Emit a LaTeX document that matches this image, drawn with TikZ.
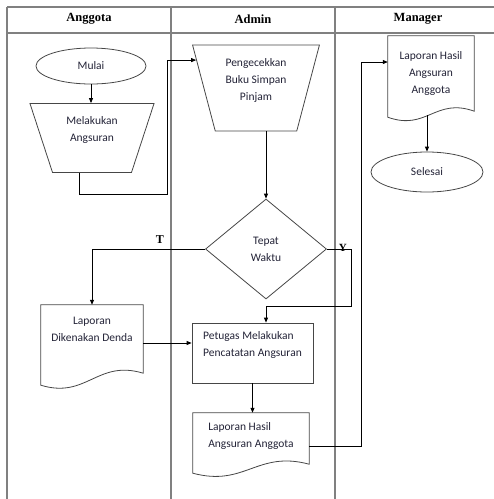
\documentclass[tikz,border=0pt]{standalone}
\usepackage{fontspec}
\setmainfont{Carlito}
\newfontfamily\headfont{Liberation Serif}
\usetikzlibrary{shapes.geometric,arrows.meta,calc}

\definecolor{lanegray}{RGB}{128,128,128}
\definecolor{shapegray}{RGB}{70,70,70}
\definecolor{textdark}{RGB}{35,35,55}

\tikzset{
  lane/.style={draw=lanegray, line width=1.5pt},
  shapeline/.style={draw=shapegray, line width=0.8pt},
  link/.style={draw=black, line width=0.8pt},
  arr/.style={link, -{Triangle[length=5pt,width=4pt]}},
  txt/.style={font=\fontsize{11.5}{17}\selectfont, text=textdark},
  terminal/.style={ellipse, shapeline, txt, inner sep=0pt},
  manual/.style={trapezium, trapezium stretches=true, shapeline, txt, align=center, inner sep=2pt},
  doc/.style={rectangle, txt, inner sep=0pt},
  process/.style={rectangle, shapeline, txt, align=left, inner sep=0pt},
  decision/.style={diamond, shapeline, txt, align=center, inner sep=0pt},
  head/.style={font=\headfont\bfseries\fontsize{12.5}{14}\selectfont},
  branch/.style={font=\headfont\bfseries\fontsize{11}{12}\selectfont, anchor=base},
}

\newcommand{\docshape}[3]{%
  \draw[shapeline] ([yshift=-#2pt]#1.south west) -- (#1.north west) -- (#1.north east)
    -- ([yshift=-#3pt]#1.south east)
    .. controls ($(#1.south west)!0.55!(#1.south east)+(0,#3-14)$) and ($(#1.south west)!0.45!(#1.south east)+(0,#2+14)$)
    .. ([yshift=-#2pt]#1.south west) -- cycle;}

\begin{document}
\begin{tikzpicture}[x=1pt, y=-1pt]
\useasboundingbox (0,0) rectangle (494,499);

\draw[lane] (7,7) -- (494,7);
\draw[lane] (7,33) -- (494,33);
\draw[lane] (7,7) -- (7,499);
\draw[lane] (171,7) -- (171,499);
\draw[lane] (335,7) -- (335,499);

\node[head] (hanggota) at (89,19) {Anggota};
\node[head] (hadmin) at (253,19) {Admin};
\node[head] (hmanager) at (418,19) {Manager};

\node[terminal, minimum width=110pt, minimum height=36pt] (mulai) at (91,66) {Mulai};
\node[manual, trapezium left angle=109, trapezium right angle=109, minimum width=125pt, minimum height=69pt] (melakukan) at (92,138) {Melakukan\\Angsuran\\\mbox{}};

\node[manual, trapezium left angle=106, trapezium right angle=106, minimum width=127pt, minimum height=86pt] (cek) at (256,88) {Pengecekkan\\Buku Simpan\\Pinjam\\\mbox{}};
\node[decision, minimum width=121pt, minimum height=100pt] (tepat) at (266,249) {Tepat\\Waktu};

\node[doc, minimum width=102pt, minimum height=48pt, align=center] (denda) at (92,329) {Laporan\\Dikenakan Denda};
\docshape{denda}{32}{20}

\node[process, minimum width=121pt, minimum height=60pt] (petugas) at (252.5,353) {Petugas Melakukan\\Pencatatan Angsuran\\\mbox{}};
\node[doc, minimum width=116pt, minimum height=46pt, align=left] (hasil) at (251,436) {Laporan Hasil\\Angsuran Anggota};
\docshape{hasil}{14}{5}

\node[doc, minimum width=86pt, minimum height=75pt, align=center] (laporan) at (431,73.5) {Laporan Hasil\\Angsuran\\Anggota};
\docshape{laporan}{6}{0}
\node[terminal, minimum width=112pt, minimum height=40pt] (selesai) at (427,172) {Selesai};

\draw[arr] (mulai.south) -- (mulai.south |- melakukan.north);
\coordinate (c1) at (167,194);
\draw[arr] ([xshift=-13pt]melakukan.south) |- (c1) |- (cek.155);
\draw[arr] (cek.south -| tepat.north) -- (tepat.north);

\draw[arr] (tepat.west) -| node[branch, pos=0.2, yshift=6pt, font=\headfont\bfseries\fontsize{12}{13}\selectfont] (tlabel) {T} (denda.north);
\coordinate (yturn) at (351,306);
\draw[arr] (tepat.east) -| node[branch, pos=0.33, yshift=-2pt] (ylabel) {Y} (yturn) -| (tepat.south |- petugas.north);

\draw[arr] ([yshift=-14pt]denda.east) -- ([yshift=-14pt]denda.east -| petugas.west);
\draw[arr] (petugas.south) -- (petugas.south |- hasil.north);
\coordinate (mturn) at (361,62);
\draw[arr] ([yshift=-10pt]hasil.east) -| (mturn) -- (mturn -| laporan.west);
\draw[arr] ([yshift=-4pt]laporan.south -| selesai.north) -- (selesai.north);

\end{tikzpicture}
\end{document}
